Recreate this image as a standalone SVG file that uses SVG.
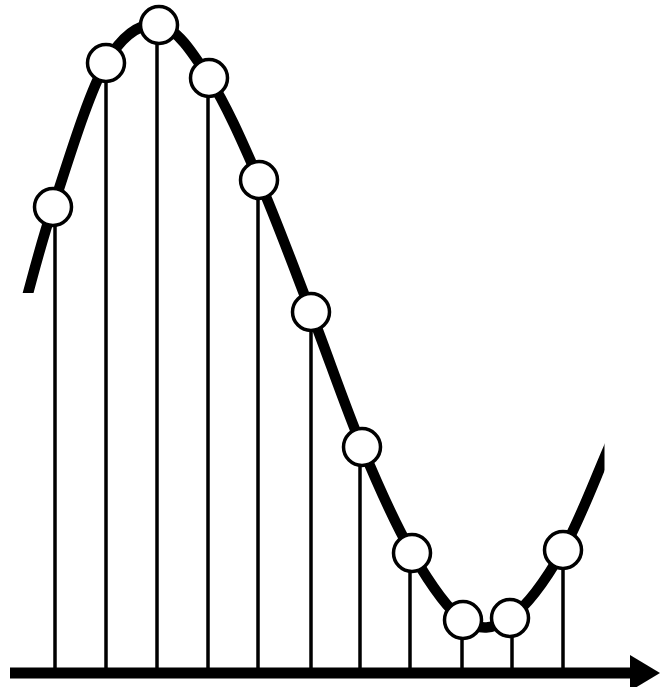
<svg xmlns="http://www.w3.org/2000/svg" width="660" height="687" viewBox="0 0 660 687">
<style>
.stem{stroke:#000;stroke-width:3.5;fill:none}
.curve{stroke:#000;stroke-width:10.5;fill:none;stroke-linecap:butt;stroke-linejoin:round}
.axis{stroke:#000;stroke-width:11;fill:none}
.pt{fill:#fff;stroke:#000;stroke-width:3.5}
</style>
<defs>
<clipPath id="cc"><polygon points="0,0 604.5,0 604.5,687 45,687 45,293 0,293"/></clipPath>
</defs>
<rect width="660" height="687" fill="#fff"/>
<g id="connectors">
<g id="stems">
<line class="stem" x1="55" y1="207" x2="55" y2="670"/>
<line class="stem" x1="106" y1="63" x2="106" y2="670"/>
<line class="stem" x1="157" y1="25" x2="157" y2="670"/>
<line class="stem" x1="208" y1="78" x2="208" y2="670"/>
<line class="stem" x1="258" y1="180" x2="258" y2="670"/>
<line class="stem" x1="311" y1="312" x2="311" y2="670"/>
<line class="stem" x1="360" y1="447" x2="360" y2="670"/>
<line class="stem" x1="410" y1="553" x2="410" y2="670"/>
<line class="stem" x1="462" y1="620" x2="462" y2="670"/>
<line class="stem" x1="512" y1="618" x2="512" y2="670"/>
<line class="stem" x1="563" y1="550" x2="563" y2="670"/>
</g>
<path id="curve" class="curve" clip-path="url(#cc)" d="M22,315 C32.3,279 39,249 53,207 C67,165 88.3,93.3 106,63 C123.7,32.7 141.8,22.5 159,25 C176.2,27.5 192.3,52.2 209,78 C225.7,103.8 242,141 259,180 C276,219 293.8,267.5 311,312 C328.2,356.5 345.2,406.8 362,447 C378.8,487.2 395.2,524.2 412,553 C428.8,581.8 446.7,609.2 463,620 C479.3,630.8 493.3,629.7 510,618 C526.7,606.3 546,579.7 563,550 C580,520.3 595.7,476.7 612,440"/>
<g id="axis">
<line class="axis" x1="10" y1="673" x2="632" y2="673"/>
<polygon points="630,655 660,673 630,691" fill="#000"/>
</g>
</g>
<g id="s1"><circle class="pt" cx="53" cy="207" r="18.5"/></g>
<g id="s2"><circle class="pt" cx="106" cy="63" r="18.5"/></g>
<g id="s3"><circle class="pt" cx="159" cy="25" r="18.5"/></g>
<g id="s4"><circle class="pt" cx="209" cy="78" r="18.5"/></g>
<g id="s5"><circle class="pt" cx="259" cy="180" r="18.5"/></g>
<g id="s6"><circle class="pt" cx="311" cy="312" r="18.5"/></g>
<g id="s7"><circle class="pt" cx="362" cy="447" r="18.5"/></g>
<g id="s8"><circle class="pt" cx="412" cy="553" r="18.5"/></g>
<g id="s9"><circle class="pt" cx="463" cy="620" r="18.5"/></g>
<g id="s10"><circle class="pt" cx="510" cy="618" r="18.5"/></g>
<g id="s11"><circle class="pt" cx="563" cy="550" r="18.5"/></g>
</svg>
